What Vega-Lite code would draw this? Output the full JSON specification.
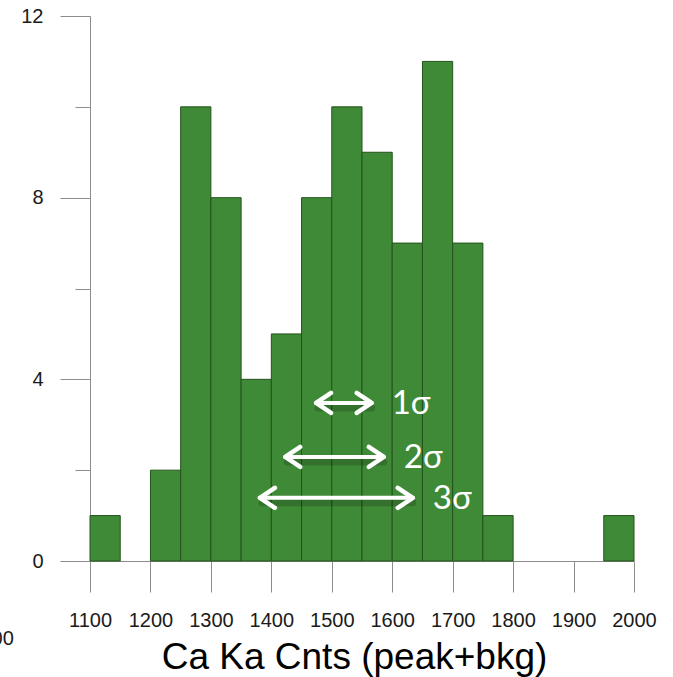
{
  "$schema": "https://vega.github.io/schema/vega-lite/v6.json",
  "autosize": "none",
  "width": 544,
  "height": 545,
  "padding": {"left": 90, "top": 16, "right": 39, "bottom": 116},
  "background": "white",
  "config": {"view": {"stroke": null}},
  "datasets": {
    "bins": [
      {"lo": 1100, "hi": 1150, "count": 1},
      {"lo": 1150, "hi": 1200, "count": 0},
      {"lo": 1200, "hi": 1250, "count": 2},
      {"lo": 1250, "hi": 1300, "count": 10},
      {"lo": 1300, "hi": 1350, "count": 8},
      {"lo": 1350, "hi": 1400, "count": 4},
      {"lo": 1400, "hi": 1450, "count": 5},
      {"lo": 1450, "hi": 1500, "count": 8},
      {"lo": 1500, "hi": 1550, "count": 10},
      {"lo": 1550, "hi": 1600, "count": 9},
      {"lo": 1600, "hi": 1650, "count": 7},
      {"lo": 1650, "hi": 1700, "count": 11},
      {"lo": 1700, "hi": 1750, "count": 7},
      {"lo": 1750, "hi": 1800, "count": 1},
      {"lo": 1800, "hi": 1850, "count": 0},
      {"lo": 1850, "hi": 1900, "count": 0},
      {"lo": 1900, "hi": 1950, "count": 0},
      {"lo": 1950, "hi": 2000, "count": 1}
    ],
    "sigma": [
      {"label": "1σ", "lo": 1474, "hi": 1566, "y": 3.48},
      {"label": "2σ", "lo": 1423, "hi": 1586, "y": 2.29},
      {"label": "3σ", "lo": 1381, "hi": 1634, "y": 1.39}
    ],
    "stray": [
      {"text": "00", "x": 974, "y": -1.72}
    ]
  },
  "layer": [
    {
      "data": {"name": "bins"},
      "transform": [{"filter": "datum.count > 0"}],
      "mark": {"type": "bar", "fill": "#3f8a37", "stroke": "#24521d", "strokeWidth": 1},
      "encoding": {
        "x": {
          "field": "lo", "type": "quantitative",
          "scale": {"domain": [1100, 2000], "nice": false, "zero": false, "padding": 0},
          "axis": {
            "values": [1100,1150,1200,1250,1300,1350,1400,1450,1500,1550,1600,1650,1700,1750,1800,1850,1900,1950,2000],
            "format": "d",
            "labelExpr": "datum.value % 100 === 0 ? datum.label : ''",
            "tickSize": {"condition": {"test": "datum.value % 100 === 0", "value": 31}, "value": 15},
            "tickColor": "#8c8c8c",
            "domainColor": "#8c8c8c",
            "labelFont": "Liberation Sans",
            "labelFontSize": 20,
            "labelColor": "#1a1a1a",
            "labelPadding": 18,
            "labelOverlap": false,
            "labelFlush": false,
            "grid": false,
            "title": "Ca Ka Cnts (peak+bkg)",
            "titleFont": "Liberation Sans",
            "titleFontSize": 37,
            "titleFontWeight": "normal",
            "titleColor": "#000000",
            "titleX": 264,
            "titleY": 107,
            "titleAlign": "center",
            "titleBaseline": "alphabetic"
          }
        },
        "x2": {"field": "hi"},
        "y": {
          "field": "count", "type": "quantitative",
          "scale": {"domain": [0, 12], "nice": false, "padding": 0},
          "axis": {
            "values": [0, 2, 4, 6, 8, 10, 12],
            "labelExpr": "datum.value % 4 === 0 ? datum.label : ''",
            "tickSize": {"condition": {"test": "datum.value % 4 === 0", "value": 30}, "value": 15},
            "tickColor": "#8c8c8c",
            "domainColor": "#8c8c8c",
            "labelFont": "Liberation Sans",
            "labelFontSize": 20,
            "labelColor": "#1a1a1a",
            "labelPadding": 17,
            "grid": false,
            "title": null
          }
        },
        "y2": {"datum": 0}
      }
    },
    {
      "data": {"name": "sigma"},
      "mark": {"type": "rule", "stroke": "#000000", "opacity": 0.18, "strokeWidth": 7, "strokeCap": "round", "xOffset": 2, "yOffset": 5},
      "encoding": {
        "x": {"field": "lo", "type": "quantitative"},
        "x2": {"field": "hi"},
        "y": {"field": "y", "type": "quantitative"}
      }
    },
    {
      "data": {"name": "sigma"},
      "mark": {"type": "rule", "stroke": "white", "strokeWidth": 4, "strokeCap": "round"},
      "encoding": {
        "x": {"field": "lo", "type": "quantitative"},
        "x2": {"field": "hi"},
        "y": {"field": "y", "type": "quantitative"}
      }
    },
    {
      "data": {"name": "sigma"},
      "mark": {"type": "point", "shape": "M1.5,-1L0,0L1.5,1", "size": 400, "filled": false, "stroke": "white", "strokeWidth": 4.5, "strokeCap": "round", "strokeJoin": "round", "opacity": 1},
      "encoding": {
        "x": {"field": "lo", "type": "quantitative"},
        "y": {"field": "y", "type": "quantitative"}
      }
    },
    {
      "data": {"name": "sigma"},
      "mark": {"type": "point", "shape": "M-1.5,-1L0,0L-1.5,1", "size": 400, "filled": false, "stroke": "white", "strokeWidth": 4.5, "strokeCap": "round", "strokeJoin": "round", "opacity": 1},
      "encoding": {
        "x": {"field": "hi", "type": "quantitative"},
        "y": {"field": "y", "type": "quantitative"}
      }
    },
    {
      "data": {"name": "sigma"},
      "mark": {"type": "text", "align": "left", "baseline": "middle", "dx": 20, "dy": 1, "font": "Lato", "fontSize": 33, "fill": "white"},
      "encoding": {
        "x": {"field": "hi", "type": "quantitative"},
        "y": {"field": "y", "type": "quantitative"},
        "text": {"field": "label"}
      }
    },
    {
      "data": {"name": "stray"},
      "mark": {"type": "text", "align": "right", "baseline": "middle", "font": "Liberation Sans", "fontSize": 20, "fill": "#1a1a1a", "clip": false},
      "encoding": {
        "x": {"field": "x", "type": "quantitative"},
        "y": {"field": "y", "type": "quantitative"},
        "text": {"field": "text"}
      }
    }
  ]
}
